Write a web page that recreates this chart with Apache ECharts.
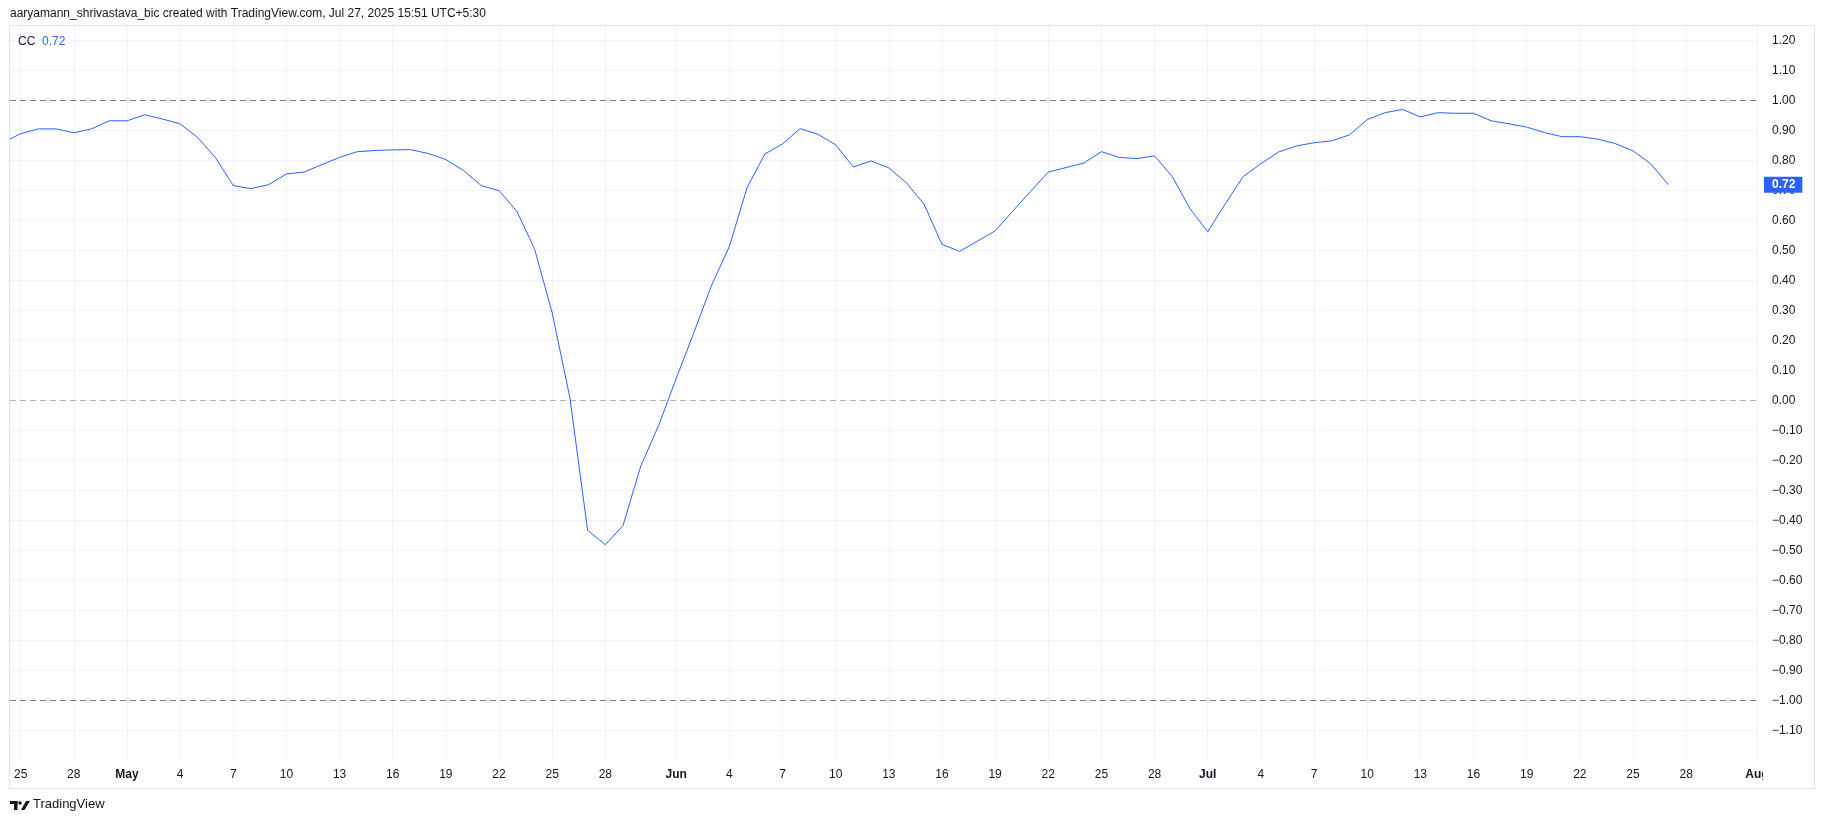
<!DOCTYPE html>
<html>
<head>
<meta charset="utf-8">
<script src="https://cdn.jsdelivr.net/npm/echarts@6/dist/echarts.min.js"></script>
<style>
html,body{margin:0;padding:0;background:#ffffff;}
#chart{width:1825px;height:824px;}
</style>
</head>
<body>
<div id="chart"></div>
<script>
// ---------------- data ----------------
const headerText = 'aaryamann_shrivastava_bic created with TradingView.com, Jul 27, 2025 15:51 UTC+5:30';
const seriesName = 'CC';
const firstDate = '2025-04-24';   // daily values start here
const originDate = '2025-04-25';  // day 0 of the x scale

// daily CC values, Apr 24 .. Jul 27 2025
const ccApr = [0.86, 0.89, 0.906, 0.906, 0.893, 0.906, 0.933];
const ccMay = [0.933, 0.953, 0.939, 0.923, 0.877, 0.81, 0.717, 0.707, 0.72, 0.756,
               0.762, 0.787, 0.811, 0.83, 0.834, 0.836, 0.837, 0.824, 0.804, 0.767,
               0.717, 0.70, 0.632, 0.507, 0.293, 0.01, -0.432, -0.48, -0.416, -0.218, -0.084];
const ccJun = [0.074, 0.227, 0.385, 0.514, 0.71, 0.822, 0.856, 0.907, 0.888, 0.853,
               0.779, 0.799, 0.776, 0.726, 0.654, 0.521, 0.498, 0.532, 0.566, 0.632,
               0.698, 0.762, 0.777, 0.792, 0.83, 0.811, 0.807, 0.816, 0.747, 0.64];
const ccJul = [0.563, 0.657, 0.747, 0.79, 0.829, 0.849, 0.86, 0.866, 0.886, 0.937,
               0.96, 0.971, 0.946, 0.96, 0.958, 0.958, 0.933, 0.923, 0.912, 0.894,
               0.88, 0.88, 0.872, 0.857, 0.833, 0.79, 0.72];

// time-axis tick dates and their labels
const xTickDates = ['2025-04-25','2025-04-28','2025-05-01','2025-05-04','2025-05-07','2025-05-10',
  '2025-05-13','2025-05-16','2025-05-19','2025-05-22','2025-05-25','2025-05-28','2025-06-01',
  '2025-06-04','2025-06-07','2025-06-10','2025-06-13','2025-06-16','2025-06-19','2025-06-22',
  '2025-06-25','2025-06-28','2025-07-01','2025-07-04','2025-07-07','2025-07-10','2025-07-13',
  '2025-07-16','2025-07-19','2025-07-22','2025-07-25','2025-07-28','2025-08-01'];
const xTickLabels = ['25','28','May','4','7','10','13','16','19','22','25','28','Jun',
  '4','7','10','13','16','19','22','25','28','Jul','4','7','10','13','16','19','22','25','28','Aug'];
const monthLabels = ['May','Jun','Jul','Aug'];

// price-axis tick values
const yTickValues = [1.2,1.1,1.0,0.9,0.8,0.7,0.6,0.5,0.4,0.3,0.2,0.1,0,
  -0.1,-0.2,-0.3,-0.4,-0.5,-0.6,-0.7,-0.8,-0.9,-1.0,-1.1];
const levelLines = [1, 0, -1];
const xRange = [-0.6, 98];
const yRange = [-1.1977, 1.249];

// ---------------- build ----------------
const DAY = 86400000;
const dayOf = s => (Date.parse(s + 'T00:00:00Z') - Date.parse(originDate + 'T00:00:00Z')) / DAY;
const ccValues = [].concat(ccApr, ccMay, ccJun, ccJul);
const d0 = dayOf(firstDate);
const lineData = ccValues.map((v, i) => [d0 + i, v]);
const xTickDays = xTickDates.map(dayOf);
const labelOfDay = {};
xTickDays.forEach((d, i) => { labelOfDay[d] = xTickLabels[i]; });
const lastVal = ccValues[ccValues.length - 1];
const fmtY = v => (v < 0 ? '\u2212' : '') + Math.abs(v).toFixed(2);

const FONT = '"Liberation Sans", Arial, sans-serif';
const TXT = '#131722';
const BLUE = '#2962ff';
const GRID = '#f0f3fa';

const gridMarks = [].concat(
  xTickDays.map(d => ({ xAxis: d })),
  yTickValues.filter(v => levelLines.indexOf(v) < 0).map(v => ({ yAxis: v }))
);
const levelMarks = levelLines.map(v => ({
  yAxis: v,
  lineStyle: { color: v === 0 ? '#b2b5be' : '#787b86', type: [6, 4], width: 1 }
}));

const chart = echarts.init(document.getElementById('chart'), null, { renderer: 'canvas' });
chart.setOption({
  animation: false,
  backgroundColor: '#ffffff',
  textStyle: { fontFamily: FONT },
  grid: { left: 10, right: 68, top: 26, bottom: 64, containLabel: false },
  xAxis: {
    type: 'value', min: xRange[0], max: xRange[1],
    axisLine: { show: false }, axisTick: { show: false }, splitLine: { show: false },
    axisLabel: {
      customValues: xTickDays,
      margin: 9, fontSize: 12, lineHeight: 12, color: TXT, fontFamily: FONT,
      formatter: v => {
        const t = labelOfDay[v] || '';
        return monthLabels.indexOf(t) >= 0 ? '{m|' + t + '}' : t;
      },
      rich: { m: { fontWeight: 'bold', fontSize: 12, lineHeight: 12, color: TXT, fontFamily: FONT } }
    }
  },
  yAxis: [{
    type: 'value', position: 'right', min: yRange[0], max: yRange[1],
    axisLine: { show: true, lineStyle: { color: '#e0e3eb', width: 1 } },
    axisTick: { show: false }, splitLine: { show: false },
    axisLabel: {
      customValues: yTickValues, formatter: fmtY, align: 'left', margin: 15,
      fontSize: 12, color: TXT, fontFamily: FONT
    }
  }, {
    type: 'value', position: 'right', min: yRange[0], max: yRange[1], z: 10,
    axisLine: { show: false }, axisTick: { show: false }, splitLine: { show: false },
    axisLabel: {
      customValues: [lastVal], formatter: fmtY, align: 'left', margin: 7,
      fontSize: 12, lineHeight: 12, fontWeight: 'bold', color: '#ffffff',
      backgroundColor: BLUE, padding: [2, 7, 2, 8], fontFamily: FONT
    }
  }],
  series: [{
    name: 'grid', type: 'line', data: [], z: 1, silent: true,
    markLine: {
      z: 1, silent: true, symbol: ['none', 'none'], label: { show: false }, animation: false,
      lineStyle: { color: GRID, width: 1, type: 'solid' }, emphasis: { disabled: true },
      data: gridMarks
    }
  }, {
    name: 'levels', type: 'line', data: [], z: 2, silent: true,
    markLine: {
      z: 2, silent: true, symbol: ['none', 'none'], label: { show: false }, animation: false,
      emphasis: { disabled: true },
      data: levelMarks
    }
  }, {
    name: seriesName, type: 'line', data: lineData, z: 10,
    showSymbol: false, symbol: 'none', clip: true,
    lineStyle: { color: BLUE, width: 1 },
    emphasis: { disabled: true }
  }],
  graphic: [
    { type: 'rect', z: 100, silent: true,
      shape: { x: 1763, y: 762, width: 50, height: 25 },
      style: { fill: '#ffffff' } },
    { type: 'rect', z: 101, silent: true,
      shape: { x: 9.5, y: 25.5, width: 1805, height: 763 },
      style: { fill: 'none', stroke: '#e0e3eb', lineWidth: 1 } },
    { type: 'text', z: 101, left: 10, top: 8,
      style: { text: headerText, fill: TXT, font: '12px ' + FONT } },
    { type: 'text', z: 101, left: 18, top: 36,
      style: {
        text: '{a|' + seriesName + '}  {b|' + lastVal.toFixed(2) + '}',
        rich: {
          a: { fill: TXT, fontSize: 12, fontFamily: FONT },
          b: { fill: BLUE, fontSize: 12, fontFamily: FONT }
        }
      } },
    { type: 'group', z: 101, left: 10, top: 801, children: [
      { type: 'rect', shape: { x: 0, y: 0, width: 7.5, height: 3 }, style: { fill: TXT } },
      { type: 'rect', shape: { x: 4, y: 0, width: 3.5, height: 9 }, style: { fill: TXT } },
      { type: 'circle', shape: { cx: 10, cy: 2, r: 1.7 }, style: { fill: TXT } },
      { type: 'polygon', shape: { points: [[11, 9], [14.5, 9], [20, 0], [16, 0]] }, style: { fill: TXT } }
    ] },
    { type: 'text', z: 101, left: 33, top: 798,
      style: { text: 'TradingView', fill: TXT, font: '13px ' + FONT } }
  ]
});
</script>
</body>
</html>
